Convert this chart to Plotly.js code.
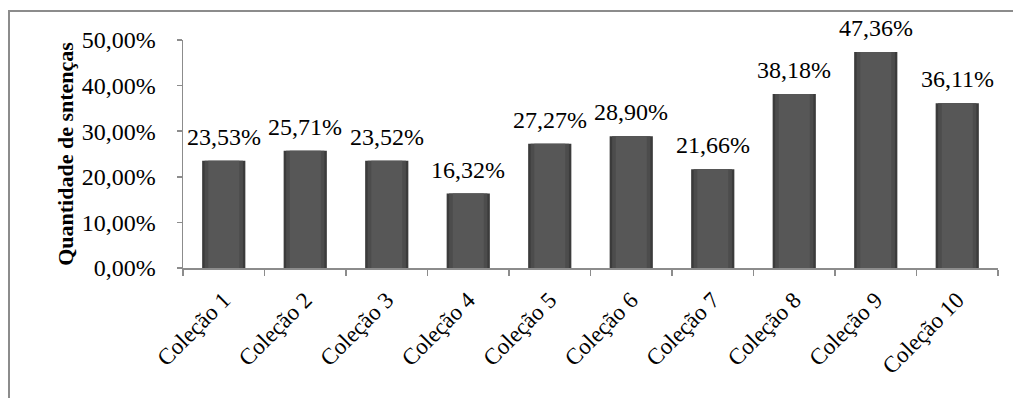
<!DOCTYPE html>
<html>
<head>
<meta charset="utf-8">
<script src="https://cdn.plot.ly/plotly-3.0.1.min.js"></script>
<style>
  html, body { margin: 0; padding: 0; background: #fff; }
  #wrap { position: relative; width: 1013px; height: 398px; overflow: hidden; }
  #frame { position: absolute; left: 8px; top: 10px; width: 1100px; height: 500px;
           border-top: 2px solid #8c8c8c; border-left: 2px solid #8c8c8c; box-sizing: border-box; pointer-events: none; }
  #chart { position: absolute; left: 0; top: 0; width: 1013px; height: 398px; }
</style>
</head>
<body>
<div id="wrap">
  <div id="chart"></div>
  <div id="frame"></div>
</div>
<script>
const categories = ['Coleção 1','Coleção 2','Coleção 3','Coleção 4','Coleção 5','Coleção 6','Coleção 7','Coleção 8','Coleção 9','Coleção 10'];
const values = [0.2353, 0.2571, 0.2352, 0.1632, 0.2727, 0.2890, 0.2166, 0.3818, 0.4736, 0.3611];
const yTitle = 'Quantidade de sntenças';

const serif = '"Liberation Serif", "Times New Roman", serif';

const outer = {
  type: 'bar', x: categories, y: values, width: 0.53,
  marker: { color: '#3b3b3b', line: { width: 0 } },
  hoverinfo: 'skip', showlegend: false
};
const mid = {
  type: 'bar', x: categories, y: values, width: 0.47,
  marker: { color: '#4c4c4c', line: { width: 0 } },
  hoverinfo: 'skip', showlegend: false
};
const inner = {
  type: 'bar', x: categories, y: values, width: 0.38,
  marker: { color: '#575757', line: { width: 0 } },
  hoverinfo: 'skip', showlegend: false
};

const annotations = categories.map((c, i) => ({
  x: c, y: values[i], xref: 'x', yref: 'y',
  text: (values[i] * 100).toFixed(2).replace('.', ',') + '%',
  showarrow: false, yanchor: 'bottom', yshift: 9,
  font: { family: serif, size: 24, color: '#000' }
}));

const layout = {
  width: 1013, height: 398,
  margin: { l: 183, r: 15, t: 40, b: 130 },
  paper_bgcolor: 'rgba(0,0,0,0)', plot_bgcolor: 'rgba(0,0,0,0)',
  barmode: 'overlay',
  separators: ',.',
  font: { family: serif, size: 24, color: '#000' },
  xaxis: {
    type: 'category',
    showline: true, linecolor: '#8c8c8c', linewidth: 1.5,
    ticks: 'outside', tickson: 'boundaries', ticklen: 6, tickcolor: '#8c8c8c', tickwidth: 1.5,
    tickangle: -45, showgrid: false, zeroline: false, ticklabelstandoff: 8,
    tickfont: { family: serif, size: 23, color: '#000' }
  },
  yaxis: {
    range: [0, 0.5], dtick: 0.1, tick0: 0, tickformat: '.2%',
    showline: true, linecolor: '#8c8c8c', linewidth: 1.5,
    ticks: 'outside', ticklen: 5, tickcolor: '#8c8c8c', tickwidth: 1.5,
    showgrid: false, zeroline: false, ticklabelstandoff: 16,
    tickfont: { family: serif, size: 24, color: '#000' },
    title: { text: yTitle, standoff: 2, font: { family: serif, size: 22, color: '#000', weight: 'bold' } }
  },
  annotations: annotations
};

Plotly.newPlot('chart', [outer, mid, inner], layout, { staticPlot: true, displayModeBar: false });
</script>
</body>
</html>
